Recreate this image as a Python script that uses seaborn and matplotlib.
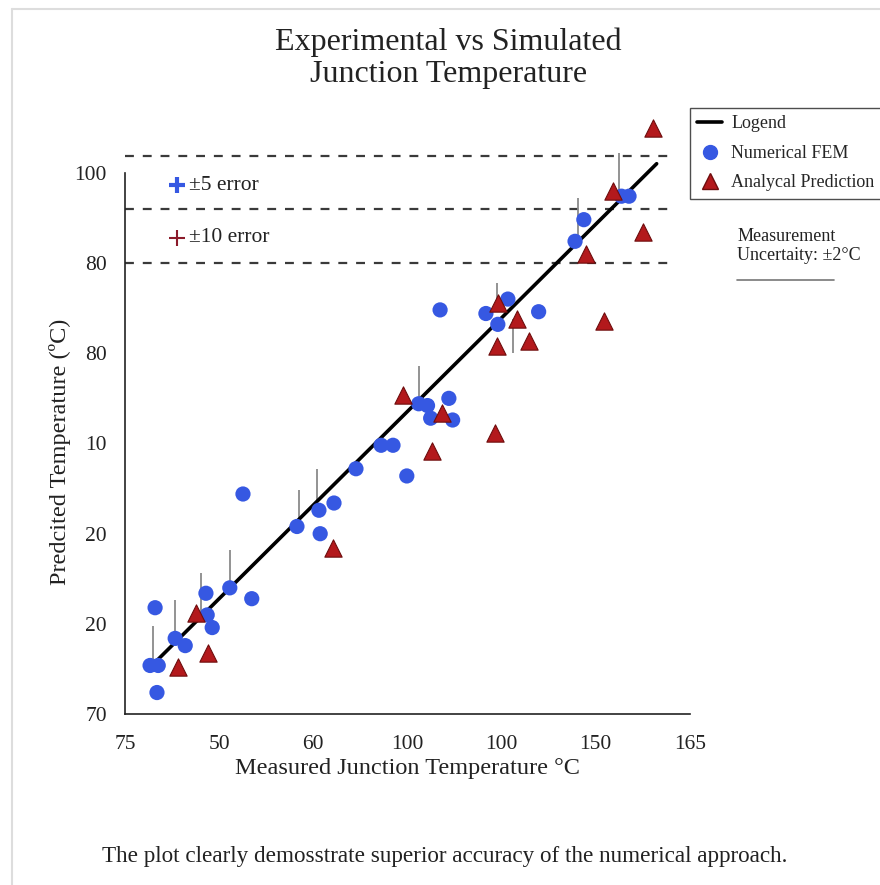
"""
plot.py
Experimental vs simulated junction temperature scatter with fit line.
"""

import matplotlib
matplotlib.use("Agg")
import matplotlib.pyplot as plt
from matplotlib.lines import Line2D
import seaborn as sns

# Axis ticks (positions on an evenly spaced scale, labels as printed)
x_ticks = [75, 90, 105, 120, 135, 150, 165]
x_tick_labels = ["75", "50", "60", "100", "100", "150", "165"]
y_ticks = [70, 75, 80, 85, 90, 95, 100]
y_tick_labels = ["70", "20", "20", "10", "80", "80", "100"]

# Numerical FEM points
fem_x = [79.8, 79.0, 80.3, 80.1, 83.0, 84.6, 87.9, 88.1, 88.9, 91.7, 95.2, 93.8,
         102.4, 105.9, 106.1, 108.3, 111.8, 115.8, 117.7, 119.9, 121.8, 123.2,
         123.7, 126.6, 127.2, 125.2, 132.5, 136.0, 134.4, 140.9, 146.7, 148.1,
         154.1, 155.3]
fem_y = [75.9, 72.7, 72.7, 71.2, 74.2, 73.8, 76.7, 75.5, 74.8, 77.0, 76.4, 82.2,
         80.4, 81.3, 80.0, 81.7, 83.6, 84.9, 84.9, 83.2, 87.2, 87.1,
         86.4, 87.5, 86.3, 92.4, 92.2, 93.0, 91.6, 92.3, 96.2, 97.4,
         98.7, 98.7]

# Analytical prediction points
ana_x = [83.4, 86.3, 88.2, 108.1, 119.3, 123.9, 125.5, 133.9, 134.4, 137.4,
         134.2, 139.3, 151.3, 148.4, 157.6, 152.7, 159.1]
ana_y = [72.6, 75.6, 73.4, 79.2, 87.7, 84.6, 86.7, 85.6, 92.8, 91.9,
         90.4, 90.7, 91.8, 95.5, 96.7, 99.0, 102.5]

# Error whiskers
err_x = [79.5, 83.0, 87.1, 91.7, 102.7, 105.6, 121.8, 134.2, 136.8, 147.1, 153.7]
err_lo = [72.7, 74.2, 75.5, 77.0, 80.4, 81.3, 87.2, 92.8, 90.0, 96.2, 98.6]
err_hi = [74.9, 76.3, 77.8, 79.1, 82.4, 83.6, 89.3, 93.9, 91.9, 98.6, 101.1]

# Fit line and reference levels
fit_x = [79.3, 159.7]
fit_y = [72.7, 100.5]
ref_levels = [100.9, 98.0, 95.0]

BLUE = "#3658e2"
RED = "#b3191c"

sns.set_theme(style="white")
plt.rcParams["font.family"] = ["Liberation Serif", "DejaVu Serif"]

fig = plt.figure(figsize=(8.8, 8.85), dpi=100)
ax = fig.add_axes([0.142, 0.193, 0.642, 0.673])

ax.hlines(ref_levels, 75, 161.5, colors="#3a3a3a", linestyles=(0, (4, 4)),
          linewidth=1.6, zorder=1)
ax.vlines(err_x, err_lo, err_hi, colors="#8a8a8a", linewidth=1.3, zorder=2)

sns.lineplot(x=fit_x, y=fit_y, ax=ax, color="black", linewidth=2.6, zorder=3)
sns.scatterplot(x=fem_x, y=fem_y, ax=ax, color=BLUE, s=120, edgecolor="none", zorder=4)
sns.scatterplot(x=ana_x, y=ana_y, ax=ax, color=RED, marker="^", s=155,
                edgecolor="#6e0d0d", linewidth=0.8, zorder=5)

ax.set_xlim(75, 165)
ax.set_ylim(70, 103)
ax.set_xticks(x_ticks)
ax.set_xticklabels(x_tick_labels, fontsize=15.5)
ax.set_yticks(y_ticks)
ax.set_yticklabels(y_tick_labels, fontsize=15.5)
ax.tick_params(axis="x", direction="in", length=6, width=1, colors="#222222", pad=15)
ax.tick_params(axis="y", direction="out", length=8, width=1, colors="#222222", pad=5)
ax.grid(False)
sns.despine(ax=ax, trim=True)
for side in ["left", "bottom"]:
    ax.spines[side].set_color("#222222")
    ax.spines[side].set_linewidth(1.2)

ax.set_xlabel("Measured Junction Temperature °C", fontsize=17.5, color="#222222", labelpad=3)
ax.set_ylabel("Predcited Temperature (ºC)", fontsize=17.5, color="#222222")
ax.yaxis.set_label_coords(-0.096, 0.44)

# in-plot error key
ax.plot([0.092], [0.888], transform=ax.transAxes, marker="+", markersize=11,
        mew=3, color=BLUE, linestyle="none", clip_on=False)
ax.text(0.113, 0.888, "±5 error", transform=ax.transAxes, fontsize=15.5,
        va="center", color="#222222")
ax.plot([0.092], [0.800], transform=ax.transAxes, marker="+", markersize=11,
        mew=1.5, color="#8b1a2a", linestyle="none", clip_on=False)
ax.text(0.113, 0.800, "±10 error", transform=ax.transAxes, fontsize=15.5,
        va="center", color="#222222")

fig.suptitle("Experimental vs Simulated\nJunction Temperature", x=0.51, y=0.969,
             fontsize=23, color="#222222", linespacing=1.15)

handles = [
    Line2D([], [], color="black", linewidth=2.6),
    Line2D([], [], color=BLUE, marker="o", linestyle="none", markersize=10),
    Line2D([], [], color=RED, marker="^", linestyle="none", markersize=11,
           markeredgecolor="#6e0d0d"),
]
leg = fig.legend(handles, ["Logend", "Numerical FEM", "Analycal Prediction"],
                 loc="upper left", bbox_to_anchor=(0.784, 0.878), borderaxespad=0,
                 fontsize=13, frameon=True, fancybox=False, edgecolor="#222222",
                 handlelength=1.4, handletextpad=0.5, borderpad=0.4,
                 labelspacing=0.7)
leg.get_frame().set_linewidth(1.0)

fig.text(0.838, 0.722, "Measurement\nUncertaity: ±2°C", fontsize=13,
         color="#222222", ha="left", va="center", linespacing=1.2)
fig.add_artist(Line2D([0.838, 0.948], [0.684, 0.684], color="#777777", linewidth=1.2))

fig.text(0.505, 0.032, "The plot clearly demosstrate superior accuracy of the numerical approach.",
         fontsize=16.7, color="#222222", ha="center", va="center")

# faint page border seen on the reference
fig.add_artist(Line2D([0.014, 0.014], [0.0, 0.99], color="#dddddd", linewidth=1.5))
fig.add_artist(Line2D([0.014, 1.0], [0.99, 0.99], color="#dddddd", linewidth=1.5))

fig.savefig("out.png", dpi=100)
plt.close(fig)
